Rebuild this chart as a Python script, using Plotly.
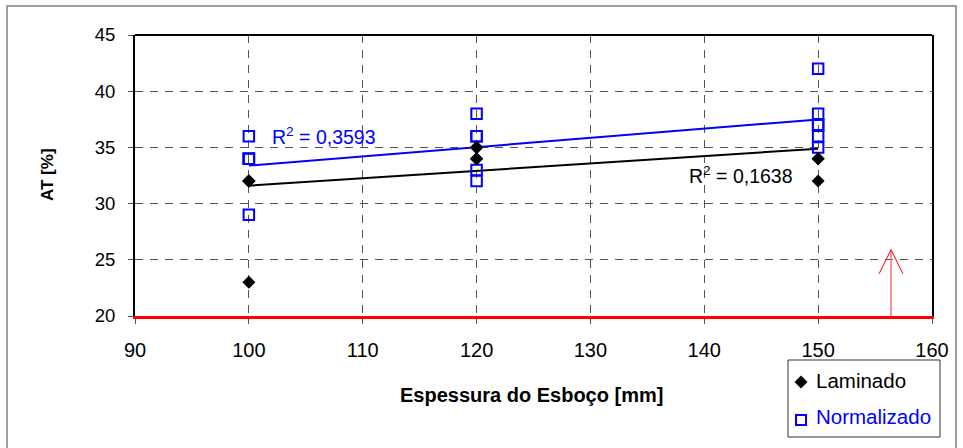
import numpy as np
import plotly.graph_objects as go

# ---------------- data ----------------
LAM_X = [100, 100, 100, 100, 100, 120, 120, 120, 120, 120, 120, 120, 150, 150, 150]
LAM_Y = [32, 32, 32, 32, 23, 35, 35, 35, 35, 34, 34, 34, 34, 34, 32]
NOR_X = [100, 100, 100, 100, 100, 120, 120, 120, 120, 120, 150, 150, 150, 150, 150, 150]
NOR_Y = [36, 34, 34, 34, 29, 38, 36, 36, 33, 32, 42, 38, 37, 37, 36, 35]
LAM_NAME = "Laminado"
NOR_NAME = "Normalizado"
R2_LAM_TEXT = "R<sup>2</sup> = 0,1638"
R2_NOR_TEXT = "R<sup>2</sup> = 0,3593"
X_TITLE = "Espessura do Esboço [mm]"
Y_TITLE = "AT [%]"
X_RANGE = [90, 160]
Y_RANGE = [20, 45]
ARROW_X = 156.4
ARROW_BASE = 20
ARROW_TOP = 25.9
ARROW_WING_DX = 1.05
ARROW_WING_Y = 23.75

# ---------------- layout geometry (pixels) ----------------
W, H = 963, 448
PL, PR, PT, PB = 135, 932, 35, 316
PW, PH = PR - PL, PB - PT
FONT = "Liberation Sans, Arial, sans-serif"
BLUE = "#0000FF"


def px(x):
    return (x - PL) / PW


def py(y):
    return (PB - y) / PH


def trend(xv, yv):
    c = np.polyfit(xv, yv, 1)
    xs = np.array([min(xv), max(xv)], dtype=float)
    return xs, np.polyval(c, xs)


fig = go.Figure()

tx, ty = trend(NOR_X, NOR_Y)
fig.add_trace(go.Scatter(x=tx, y=ty, mode="lines", line=dict(color=BLUE, width=2),
                         showlegend=False, hoverinfo="skip"))
tx, ty = trend(LAM_X, LAM_Y)
fig.add_trace(go.Scatter(x=tx, y=ty, mode="lines", line=dict(color="black", width=2),
                         showlegend=False, hoverinfo="skip"))

fig.add_trace(go.Scatter(x=NOR_X, y=NOR_Y, mode="markers", name=NOR_NAME,
                         marker=dict(symbol="square-open", size=10.5, color=BLUE,
                                     line=dict(width=2, color=BLUE))))
fig.add_trace(go.Scatter(x=LAM_X, y=LAM_Y, mode="markers", name=LAM_NAME,
                         marker=dict(symbol="diamond", size=10, color="black",
                                     line=dict(width=0))))

grid_common = dict(
    ticks="outside", ticklen=5, tickcolor="#555", tickwidth=1,
    showgrid=True, gridcolor="#555", gridwidth=1, griddash="8px,7px",
    zeroline=False, fixedrange=True,
)
fig.update_xaxes(range=X_RANGE, tick0=90, dtick=10,
                 showline=True, linecolor="#FF0000", linewidth=3, mirror=False,
                 tickfont=dict(family=FONT, size=20, color="black"),
                 ticklabelstandoff=9, **grid_common)
fig.update_yaxes(range=Y_RANGE, tick0=20, dtick=5,
                 showline=True, linecolor="black", linewidth=2, mirror=True,
                 tickfont=dict(family=FONT, size=18.5, color="black"),
                 ticklabelstandoff=9, **grid_common)

shapes = []
# outer chart border
shapes.append(dict(type="rect", xref="paper", yref="paper",
                   x0=px(7), x1=px(956), y0=py(460), y1=py(6),
                   line=dict(color="#808080", width=1.5), layer="below"))
# top frame line
shapes.append(dict(type="line", xref="paper", yref="paper", x0=0, x1=1, y0=1, y1=1,
                   line=dict(color="black", width=2), layer="above"))
# red arrow
shapes.append(dict(type="line", xref="x", yref="y", x0=ARROW_X, x1=ARROW_X,
                   y0=ARROW_BASE, y1=ARROW_TOP, line=dict(color="#FF7070", width=1.5), layer="above"))
shapes.append(dict(type="path", xref="x", yref="y",
                   path=f"M {ARROW_X - ARROW_WING_DX},{ARROW_WING_Y} L {ARROW_X},{ARROW_TOP} "
                        f"L {ARROW_X + ARROW_WING_DX},{ARROW_WING_Y}",
                   line=dict(color="red", width=1), layer="above"))
# manual legend box
shapes.append(dict(type="rect", xref="paper", yref="paper",
                   x0=px(788), x1=px(940), y0=py(437), y1=py(360),
                   line=dict(color="#333", width=1), fillcolor="white", layer="above"))
shapes.append(dict(type="path", xref="paper", yref="paper", xsizemode="pixel", ysizemode="pixel",
                   xanchor=px(801), yanchor=py(382),
                   path="M -6.5,0 L 0,6.5 L 6.5,0 L 0,-6.5 Z",
                   fillcolor="black", line=dict(width=0), layer="above"))
shapes.append(dict(type="rect", xref="paper", yref="paper", xsizemode="pixel", ysizemode="pixel",
                   xanchor=px(801), yanchor=py(420), x0=-5, x1=5, y0=-5, y1=5,
                   line=dict(color=BLUE, width=2), fillcolor="rgba(0,0,0,0)", layer="above"))

annotations = [
    dict(text=f"<b>{X_TITLE}</b>", xref="paper", yref="paper", x=px(531), y=py(395),
         xanchor="center", yanchor="middle", showarrow=False,
         font=dict(family=FONT, size=20, color="black")),
    dict(text=f"<b>{Y_TITLE}</b>", xref="paper", yref="paper", x=px(47), y=py(175),
         xanchor="center", yanchor="middle", showarrow=False, textangle=-90,
         font=dict(family=FONT, size=17, color="black")),
    dict(text=R2_NOR_TEXT, xref="x", yref="y", x=101.85, y=36.0,
         xanchor="left", yanchor="middle", showarrow=False,
         font=dict(family=FONT, size=19.5, color=BLUE)),
    dict(text=R2_LAM_TEXT, xref="x", yref="y", x=148.0, y=32.55,
         xanchor="right", yanchor="middle", showarrow=False,
         font=dict(family=FONT, size=19.5, color="black")),
    dict(text=LAM_NAME, xref="paper", yref="paper", x=px(814), y=py(380),
         xanchor="left", yanchor="middle", showarrow=False,
         font=dict(family=FONT, size=20.5, color="black")),
    dict(text=NOR_NAME, xref="paper", yref="paper", x=px(814), y=py(416),
         xanchor="left", yanchor="middle", showarrow=False,
         font=dict(family=FONT, size=20.5, color=BLUE)),
]

fig.update_layout(
    width=W, height=H, autosize=False,
    margin=dict(l=PL, r=W - PR, t=PT, b=H - PB, pad=0),
    paper_bgcolor="white", plot_bgcolor="white",
    showlegend=False, shapes=shapes, annotations=annotations,
    font=dict(family=FONT, color="black"),
)

fig.write_html("out.html", config={"displayModeBar": False})
